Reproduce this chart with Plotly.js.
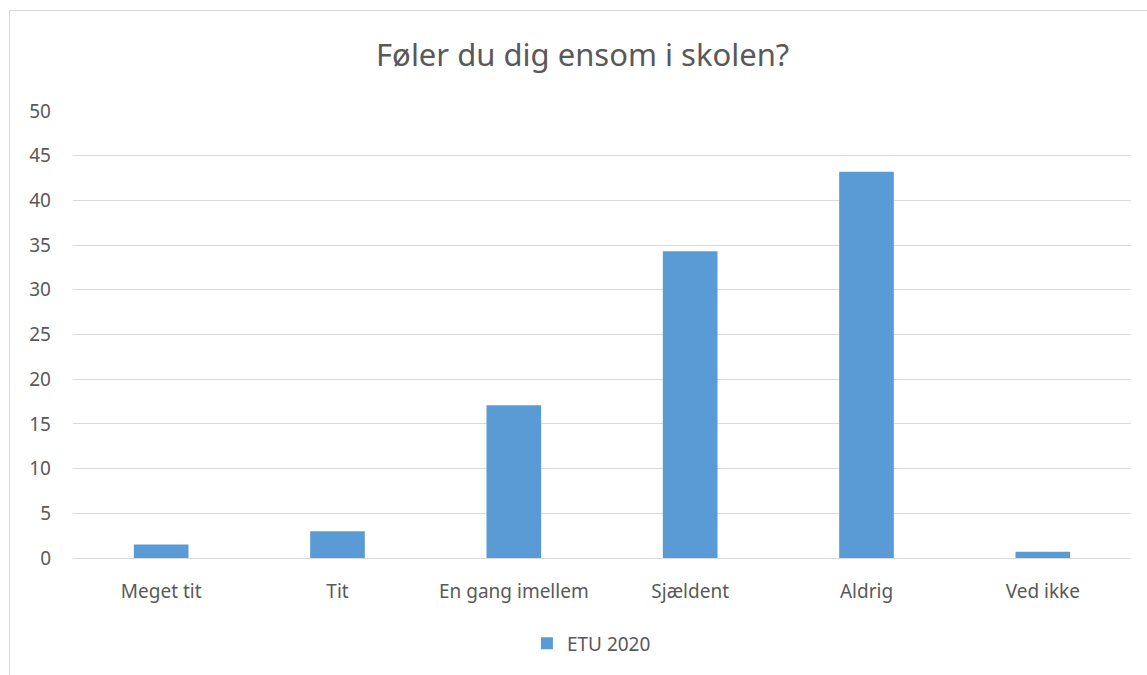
<!DOCTYPE html>
<html>
<head>
<meta charset="utf-8">
<script src="https://cdn.plot.ly/plotly-3.0.1.min.js"></script>
<style>
  html, body { margin: 0; padding: 0; overflow: hidden; background: #fff; }
  #chart { position: absolute; left: 0; top: 0; width: 1147px; height: 675px; }
  #frame { position: absolute; left: 9px; top: 10px; width: 1300px; height: 1000px; border: 1px solid #d9d9d9; pointer-events: none; }
</style>
</head>
<body>
<div id="chart"></div>
<div id="frame"></div>
<script>
const categories = ["Meget tit", "Tit", "En gang imellem", "Sjældent", "Aldrig", "Ved ikke"];
const seriesName = "ETU 2020";
const values = [1.5, 3.0, 17.1, 34.3, 43.2, 0.7];
const yTicks = [0, 5, 10, 15, 20, 25, 30, 35, 40, 45, 50];
const titleText = "Føler du dig ensom i skolen?";

const fontFam = "Noto Sans, Open Sans, sans-serif";
const trace = {
  type: "bar",
  x: categories,
  y: values,
  name: seriesName,
  marker: { color: "#5B9BD5" },
  showlegend: true,
  hoverinfo: "none"
};

const layout = {
  width: 1147,
  height: 675,
  margin: { l: 73, r: 16, t: 111, b: 114 },
  paper_bgcolor: "rgba(0,0,0,0)",
  plot_bgcolor: "#fff",
  font: { family: fontFam, color: "#595959", size: 19 },
  title: {
    text: titleText,
    font: { family: fontFam, size: 31, color: "#595959" },
    x: 0.508, xanchor: "center",
    yref: "container", y: 1 - 55 / 675, yanchor: "middle"
  },
  bargap: 0.69,
  xaxis: {
    type: "category",
    showgrid: false,
    showline: true,
    linecolor: "#d9d9d9",
    linewidth: 1,
    ticks: "",
    ticklabelstandoff: 16,
    tickfont: { size: 19, color: "#595959" }
  },
  yaxis: {
    range: [0, 50],
    tickvals: yTicks,
    showgrid: true,
    gridcolor: "#d9d9d9",
    gridwidth: 1,
    zeroline: false,
    showline: false,
    ticks: "",
    ticklabelstandoff: 21,
    tickfont: { size: 19, color: "#595959" }
  },
  showlegend: true,
  legend: {
    orientation: "h",
    x: 0.49, xanchor: "center",
    y: (561 - 647) / 450, yanchor: "middle",
    font: { size: 19, color: "#595959" },
    itemwidth: 30
  }
};

Plotly.newPlot("chart", [trace], layout, { staticPlot: true, displayModeBar: false });
</script>
</body>
</html>
